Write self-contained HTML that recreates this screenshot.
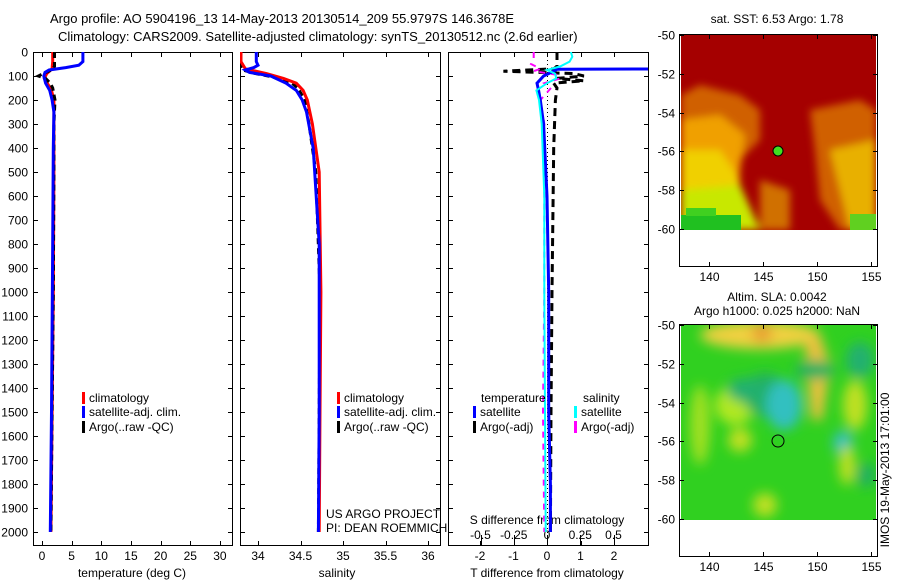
<!DOCTYPE html>
<html><head><meta charset="utf-8"><style>
body{margin:0;background:#fff;}
svg text{font-family:"Liberation Sans",sans-serif;font-size:12px;fill:#000;}
</style></head><body>
<svg id="fig" width="900" height="580" viewBox="0 0 900 580">
<defs>
<filter id="blur1" x="-10%" y="-10%" width="120%" height="120%"><feGaussianBlur stdDeviation="4"/></filter>
<filter id="blur2" x="-10%" y="-10%" width="120%" height="120%"><feGaussianBlur stdDeviation="6"/></filter>
<clipPath id="clipTop"><rect x="681" y="35" width="195" height="195"/></clipPath>
<clipPath id="clipBot"><rect x="681" y="325" width="195" height="195"/></clipPath>
<clipPath id="clipP1"><rect x="33" y="52" width="199" height="493"/></clipPath>
<clipPath id="clipP2"><rect x="240" y="52" width="200" height="493"/></clipPath>
<clipPath id="clipP3"><rect x="448" y="52" width="200" height="493"/></clipPath>
</defs>
<text x="50" y="23" style="font-size:13px">Argo profile: AO 5904196_13 14-May-2013 20130514_209 55.9797S 146.3678E</text>
<text x="58" y="41" style="font-size:13px">Climatology: CARS2009. Satellite-adjusted climatology: synTS_20130512.nc (2.6d earlier)</text>

<!-- top map -->
<g>
<text x="777" y="23" text-anchor="middle">sat. SST: 6.53 Argo: 1.78</text>
<g clip-path="url(#clipTop)">
<rect x="681" y="35" width="195" height="195" fill="#a50000"/>
<g filter="url(#blur1)">
<polygon points="681,95 700,85 740,95 760,110 760,140 740,160 735,230 681,230" fill="#d06000"/>
<polygon points="681,120 720,115 745,135 740,170 735,230 681,230" fill="#f0a000"/>
<polygon points="681,150 720,150 740,180 735,230 681,230" fill="#f0d000"/>
<polygon points="681,190 740,185 760,230 681,230" fill="#c8e800"/>
<polygon points="810,110 860,100 876,110 876,230 840,230 820,200 815,150" fill="#d06000"/>
<polygon points="830,150 876,140 876,230 850,230 840,190" fill="#e8b000"/>
<polygon points="760,180 790,190 790,230 760,230" fill="#d07000"/>
</g>
<rect x="681" y="215" width="60" height="15" fill="#20c020"/>
<rect x="686" y="208" width="30" height="8" fill="#40d020"/>
<rect x="850" y="214" width="26" height="16" fill="#60d020"/>
</g>
<rect x="681" y="230" width="195" height="36" fill="#fff"/>
<circle cx="778" cy="151" r="5" fill="#40e020" stroke="#000" stroke-width="1"/>
<rect x="679.5" y="34.5" width="198" height="232" fill="none" stroke="#000"/>
</g>

<!-- bottom map -->
<g>
<text x="777" y="301" text-anchor="middle">Altim. SLA: 0.0042</text>
<text x="777" y="315" text-anchor="middle">Argo h1000: 0.025 h2000: NaN</text>
<g clip-path="url(#clipBot)">
<rect x="681" y="325" width="195" height="195" fill="#30d020"/>
<g filter="url(#blur2)">
<ellipse cx="760" cy="335" rx="60" ry="14" fill="#f0d040"/>
<ellipse cx="762" cy="333" rx="10" ry="10" fill="#e8a030"/>
<polygon points="805,340 820,335 830,365 822,420 812,420 808,380" fill="#f0c040"/>
<ellipse cx="700" cy="425" rx="10" ry="40" fill="#a0e020"/>
<ellipse cx="735" cy="405" rx="20" ry="20" fill="#b0e820"/>
<ellipse cx="765" cy="395" rx="22" ry="22" fill="#20b060"/>
<ellipse cx="784" cy="405" rx="18" ry="25" fill="#30c0c0"/>
<ellipse cx="745" cy="390" rx="18" ry="12" fill="#20b070"/>
<ellipse cx="815" cy="370" rx="20" ry="10" fill="#20b060"/>
<ellipse cx="843" cy="443" rx="10" ry="12" fill="#30c0c0"/>
<ellipse cx="860" cy="360" rx="14" ry="18" fill="#20b070"/>
<ellipse cx="855" cy="405" rx="12" ry="25" fill="#c0e020"/>
<ellipse cx="847" cy="465" rx="8" ry="20" fill="#c0e020"/>
<ellipse cx="740" cy="440" rx="12" ry="12" fill="#c0e020"/>
<ellipse cx="765" cy="505" rx="12" ry="12" fill="#c0e020"/>
<ellipse cx="866" cy="475" rx="10" ry="12" fill="#20b060"/>
</g>
</g>
<rect x="681" y="520" width="195" height="37" fill="#fff"/>
<circle cx="778" cy="441" r="6" fill="none" stroke="#000" stroke-width="1"/>
<rect x="679.5" y="324.5" width="198" height="232" fill="none" stroke="#000"/>
<text transform="translate(889,470) rotate(-90)" text-anchor="middle">IMOS 19-May-2013 17:01:00</text>
</g>

<g id="axes"></g>
</svg>
<script>
// ---------- data ----------
const depthTicks = [0,100,200,300,400,500,600,700,800,900,1000,1100,1200,1300,1400,1500,1600,1700,1800,1900,2000];
const tempTicks = [0,5,10,15,20,25,30];
const salTicks = [34,34.5,35,35.5,36];
const salTickLabels = ["34","34.5","35","35.5","36"];
const tdiffTicks = [-2,-1,0,1,2];
const sdiffTicks = [-0.5,-0.25,0,0.25,0.5];
const sdiffTickLabels = ["-0.5","-0.25","0","0.25","0.5"];

const depthClim = [0,40,70,90,110,130,160,200,300,500,1000,1500,2000];
const tempClim = [1.8,1.8,1.7,0.8,0.4,0.9,1.6,2.0,2.0,2.0,1.9,1.7,1.5];
const depthSat = [0,40,55,65,75,85,100,130,160,200,250,400,800,1500,2000];
const tempSat = [6.9,6.9,6.2,4.0,1.2,0.5,0.3,0.6,1.3,1.7,2.0,1.9,1.8,1.6,1.4];
const depthArgo = [0,60,75,90,100,110,130,150,200,300,500,1000,1500,2000];
const tempArgo = [2.1,2.1,1.6,0.2,-0.6,0.6,1.4,1.8,2.2,2.0,2.0,1.9,1.7,1.5];

const salClim = [33.8,33.8,33.85,34.1,34.3,34.45,34.53,34.58,34.64,34.72,34.74,34.73,34.72];
const salSatD = [0,40,55,65,75,85,100,130,160,200,250,400,800,1500,2000];
const salSat = [33.98,33.98,34.0,33.95,33.85,33.9,34.15,34.33,34.45,34.52,34.57,34.65,34.72,34.72,34.71];
const salArgo = [33.8,33.8,33.82,33.97,34.12,34.25,34.4,34.47,34.55,34.6,34.68,34.73,34.72,34.71];

const tdiffSatD = [0,60,70,72,80,100,130,160,200,300,600,1000,1500,1800,2000];
const tdiffSat = [5.0,5.0,5.0,0.3,0.2,-0.1,-0.3,-0.25,-0.2,-0.1,0.0,0.05,0.05,0.1,0.1];
const tdiffArgoD = [0,60,70,80,90,100,110,120,130,150,200,400,1000,1500,2000];
const tdiffArgo = [0.3,0.3,0.2,-1.3,0.8,1.1,0.3,1.1,0.2,0.3,0.25,0.2,0.15,0.12,0.1];
const sdiffSatD = [0,20,40,60,75,90,110,130,160,200,300,600,1000,2000];
const sdiffSat = [0.18,0.19,0.17,0.1,0.0,0.06,0.07,0.0,-0.08,-0.06,-0.04,-0.02,-0.02,-0.01];
const sdiffArgoD = [0,30,50,70,80,95,110,130,150,200,300,1000,1500,2000];
const sdiffArgo = [-0.1,-0.1,-0.12,-0.05,-0.1,0.08,0.1,-0.02,0.03,-0.05,-0.02,-0.02,-0.03,-0.02];

// ---------- scales ----------
const Y0=52, Y1=545;
const yD = d => Y0 + d*0.24;
const xT = t => 42 + t*5.93;
const xS = s => 258 + (s-34)*85;
const xTd = t => 547 + t*33.5;
const xSd = s => 547 + s*133;

const NS="http://www.w3.org/2000/svg";
const root=document.getElementById('axes');
function mk(tag,attrs,parent){const e=document.createElementNS(NS,tag);for(const k in attrs)e.setAttribute(k,attrs[k]);(parent||root).appendChild(e);return e;}
function txt(x,y,s,anchor,parent){const e=mk('text',{x:x,y:y,'text-anchor':anchor||'start'},parent);e.textContent=s;return e;}

function panel(name,x0,x1,xticks,xf,showY){
  const g=mk('g',{});
  
  
  const r=mk('rect',{x:x0+0.5,y:Y0+0.5,width:x1-x0,height:Y1-Y0,fill:'none',stroke:'#000'},g);
  
  
  depthTicks.forEach(d=>{
    const y=yD(d)+0.5;
    mk('line',{x1:x0,x2:x0+5,y1:y,y2:y,stroke:'#000'},g);
    mk('line',{x1:x1-4,x2:x1+1,y1:y,y2:y,stroke:'#000'},g);
    if(showY){const t=txt(x0-5,y+4,String(d),'end',g);
      
      }
  });
  xticks.forEach(v=>{
    const x=Math.round(xf(v))+0.5;
    mk('line',{x1:x,x2:x,y1:Y1-4,y2:Y1+1,stroke:'#000'},g);
    mk('line',{x1:x,x2:x,y1:Y0,y2:Y0+5,stroke:'#000'},g);
  });
  return g;
}
function series(g,clip,xs,ds,xf,color,w,dash,name){
  const pts=xs.map((v,i)=>xf(v).toFixed(1)+','+yD(ds[i]).toFixed(1)).join(' ');
  const p=mk('polyline',{points:pts,fill:'none',stroke:color,'stroke-width':w,'clip-path':clip,'stroke-dasharray':dash||'none'},g);
  
  
}
function legbar(g,x,y,color,label){
  mk('rect',{x:x,y:y-10,width:3,height:12,fill:color},g);
  txt(x+7,y,label,'start',g);
}

// Panel 1
const g1=panel('temperature-panel',33,232,tempTicks,xT,true);
tempTicks.forEach(v=>{const t=txt(xT(v),560,String(v),'middle',g1);});
const xl1=txt(132,577,'temperature (deg C)','middle',g1);


series(g1,'url(#clipP1)',tempClim,depthClim,xT,'#f00',3,null,'temp-climatology-line');
series(g1,'url(#clipP1)',tempArgo,depthArgo,xT,'#000',3,'6,4','temp-argo-line');
series(g1,'url(#clipP1)',tempSat,depthSat,xT,'#00f',3,null,'temp-satellite-line');
const lg1=mk('g',{},g1);


legbar(lg1,82,402,'#f00','climatology');
legbar(lg1,82,416,'#00f','satellite-adj. clim.');
legbar(lg1,82,431,'#000','Argo(..raw -QC)');

// Panel 2
const g2=panel('salinity-panel',240,440,salTicks,xS,false);
salTicks.forEach((v,i)=>{const t=txt(xS(v),560,salTickLabels[i],'middle',g2);});
const xl2=txt(337,577,'salinity','middle',g2);


series(g2,'url(#clipP2)',salArgo,depthArgo,xS,'#000',3,'6,4','sal-argo-line');
series(g2,'url(#clipP2)',salClim,depthClim,xS,'#f00',3,null,'sal-climatology-line');
series(g2,'url(#clipP2)',salSat,salSatD,xS,'#00f',3,null,'sal-satellite-line');
const lg2=mk('g',{},g2);


legbar(lg2,337,402,'#f00','climatology');
legbar(lg2,337,416,'#00f','satellite-adj. clim.');
legbar(lg2,337,431,'#000','Argo(..raw -QC)');
const pr1=txt(326,518,'US ARGO PROJECT','start',g2);


const pr2=txt(326,532,'PI: DEAN ROEMMICH','start',g2);



// Panel 3
const g3=panel('difference-panel',448,648,tdiffTicks,xTd,false);
sdiffTicks.forEach(v=>{const x=Math.round(xSd(v))+0.5;mk('line',{x1:x,x2:x,y1:Y1-10,y2:Y1,stroke:'#000'},g3);});
tdiffTicks.forEach(v=>{const t=txt(xTd(v),560,String(v),'middle',g3);});
sdiffTicks.forEach((v,i)=>{const t=txt(xSd(v),539,sdiffTickLabels[i],'middle',g3);});
const xl3=txt(547,577,'T difference from climatology','middle',g3);


const xl4=txt(547,524,'S difference from climatology','middle',g3);


mk('line',{x1:547.5,x2:547.5,y1:Y0,y2:Y1,stroke:'#000','stroke-dasharray':'1,3'},g3);
series(g3,'url(#clipP3)',tdiffArgo,tdiffArgoD,xTd,'#000',3,'8,5','tdiff-argo-line');
series(g3,'url(#clipP3)',sdiffArgo,sdiffArgoD,xSd,'#f0f',2,'6,6','sdiff-argo-line');
series(g3,'url(#clipP3)',tdiffSat,tdiffSatD,xTd,'#00f',3,null,'tdiff-satellite-line');
series(g3,'url(#clipP3)',sdiffSat,sdiffSatD,xSd,'#0ff',2,null,'sdiff-satellite-line');
const lg3=mk('g',{},g3);


txt(481,402,'temperature','start',lg3);
txt(583,402,'salinity','start',lg3);
legbar(lg3,473,416,'#00f','satellite');
legbar(lg3,473,431,'#000','Argo(-adj)');
legbar(lg3,574,416,'#0ff','satellite');
legbar(lg3,574,431,'#f0f','Argo(-adj)');

// Map axes
function mapAxes(name,yTop,yBot){
  const g=mk('g',{});
  
  
  const lonTicks=[140,145,150,155];
  lonTicks.forEach(v=>{const x=Math.round(709+(v-140)*10.8)+0.5;
    mk('line',{x1:x,x2:x,y1:yBot-4,y2:yBot+1,stroke:'#000'},g);
    mk('line',{x1:x,x2:x,y1:yTop-1,y2:yTop+4,stroke:'#000'},g);
    txt(x,yBot+15,String(v),'middle',g);});
  const latTicks=[-50,-52,-54,-56,-58,-60];
  latTicks.forEach(v=>{const y=Math.round(yTop+(-50-v)*19.4)+0.5;
    mk('line',{x1:679,x2:684,y1:y,y2:y,stroke:'#000'},g);
    mk('line',{x1:873,x2:878,y1:y,y2:y,stroke:'#000'},g);
    txt(675,y+4,String(v),'end',g);});
}
mapAxes('sst-map-axes',35,266);
mapAxes('sla-map-axes',325,556);
</script>
</body></html>
